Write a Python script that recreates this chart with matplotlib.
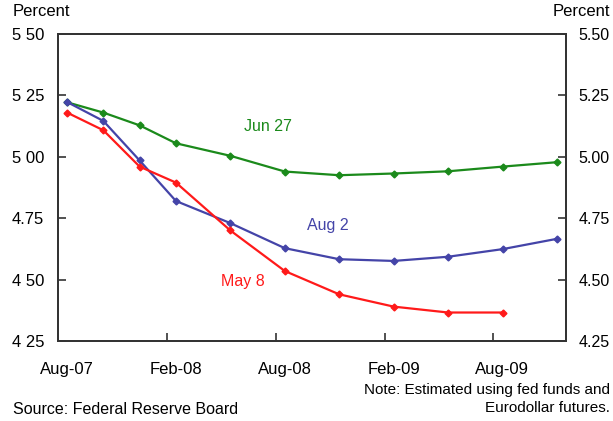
import matplotlib
matplotlib.use("Agg")
import matplotlib.pyplot as plt
from matplotlib.transforms import ScaledTranslation

plt.rcParams['font.family'] = ['Liberation Sans', 'DejaVu Sans']

# months after start of Aug-2007 (mid-month observations)
months = [0.5, 2.5, 4.5, 6.5, 9.5, 12.5, 15.5, 18.5, 21.5, 24.5, 27.5]
jun27 = [5.222, 5.18, 5.128, 5.055, 5.004, 4.94, 4.925, 4.932, 4.941, 4.96, 4.978]
aug2 = [5.223, 5.146, 4.985, 4.82, 4.73, 4.628, 4.583, 4.576, 4.593, 4.624, 4.666]
may8 = [5.18, 5.108, 4.96, 4.895, 4.70, 4.535, 4.44, 4.39, 4.366, 4.366]

xtick_pos = [0, 6, 12, 18, 24]
xtick_labels = ["Aug-07", "Feb-08", "Aug-08", "Feb-09", "Aug-09"]
ytick_pos = [4.25, 4.50, 4.75, 5.00, 5.25, 5.50]
ytick_left = ["4 25", "4 50", "4.75", "5 00", "5 25", "5 50"]
ytick_right = ["4.25", "4.50", "4.75", "5.00", "5.25", "5.50"]

fig = plt.figure(figsize=(6.13, 4.21), dpi=100)
ax = fig.add_axes([58/613, 1-341/421, (566-58)/613, (341-34)/421])

green = '#1b8a1b'
blue = '#4444a8'
red = '#ff1a1a'
ax.plot(months, jun27, color=green, lw=1.6, marker='D', ms=3.5)
ax.plot(months, aug2, color=blue, lw=1.6, marker='D', ms=3.5)
ax.plot(months[:len(may8)], may8, color=red, lw=1.6, marker='D', ms=3.5)

ax.set_xlim(0, 28)
ax.set_ylim(4.25, 5.50)

for s in ax.spines.values():
    s.set_color('#333333')
    s.set_linewidth(1.3)

ax.set_xticks(xtick_pos)
ax.set_xticklabels(xtick_labels, fontsize=12)
ax.tick_params(axis='x', direction='in', length=6, width=1.2, color='#333333', pad=15)
off = ScaledTranslation(9/100, 0, fig.dpi_scale_trans)
for lbl in ax.get_xticklabels():
    lbl.set_transform(lbl.get_transform() + off)

ax.set_yticks(ytick_pos)
ax.set_yticklabels(ytick_left, fontsize=12)
ax.tick_params(axis='y', direction='in', length=6, width=1.2, color='#333333', pad=10)

ax2 = ax.twinx()
ax2.set_ylim(ax.get_ylim())
ax2.set_yticks(ytick_pos)
ax2.set_yticklabels(ytick_right, fontsize=11.5)
ax2.tick_params(axis='y', direction='in', length=6, width=1.2, color='#333333', pad=9)
for s in ax2.spines.values():
    s.set_color('#333333')
    s.set_linewidth(1.3)

ax.text(10.25, 5.124, "Jun 27", color=green, fontsize=11.5, ha='left', va='center')
ax.text(13.7, 4.72, "Aug 2", color=blue, fontsize=11.5, ha='left', va='center')
ax.text(9.0, 4.494, "May 8", color=red, fontsize=11.5, ha='left', va='center')

fig.text(13/613, 1-12/421, "Percent", fontsize=12, ha='left', va='center')
fig.text(610/613, 1-12/421, "Percent", fontsize=12, ha='right', va='center')
fig.text(610/613, 1-390/421, "Note: Estimated using fed funds and", fontsize=11, ha='right', va='center')
fig.text(610/613, 1-408/421, "Eurodollar futures.", fontsize=11, ha='right', va='center')
fig.text(13/613, 1-410/421, "Source: Federal Reserve Board", fontsize=11.5, ha='left', va='center')

fig.savefig("out.png", dpi=100)
